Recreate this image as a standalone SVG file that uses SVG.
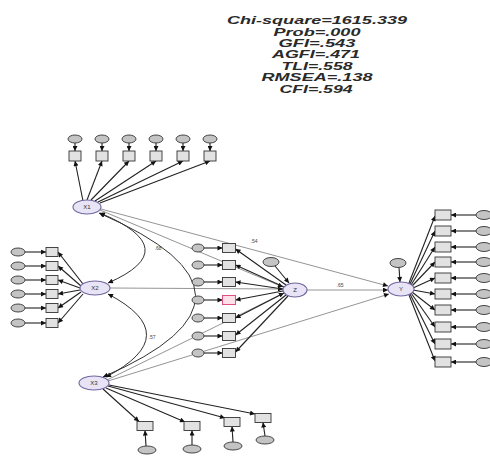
<svg xmlns="http://www.w3.org/2000/svg" width="490" height="456" viewBox="0 0 490 456">
<style>
.st{font-family:"Liberation Sans",Arial,sans-serif;font-size:11px;font-weight:bold;font-style:italic;fill:#2a2a2a;text-anchor:middle}
.lat{fill:#e9e4f5;stroke:#6f66a0;stroke-width:1.1}
.err{fill:#c4c4c4;stroke:#333;stroke-width:0.9}
.box{fill:#e2e2e2;stroke:#333;stroke-width:0.9}
.lt{font-family:"Liberation Sans",Arial,sans-serif;font-size:6px;fill:#333;text-anchor:middle}
.lb{font-family:"Liberation Sans",Arial,sans-serif;font-size:5px;fill:#444;text-anchor:middle}
.ar{stroke:#222;stroke-width:1.1;fill:none;marker-end:url(#ah)}
.sp{stroke:#888;stroke-width:0.9;fill:none;marker-end:url(#ah)}
.cv{stroke:#333;stroke-width:1;fill:none;marker-start:url(#ah2);marker-end:url(#ah)}
</style>
<defs>
<marker id="ah" viewBox="0 0 10 10" refX="10" refY="5" markerWidth="7" markerHeight="5" orient="auto" markerUnits="userSpaceOnUse"><path d="M0,0 L10,5 L0,10 z" fill="#111"/></marker>
<marker id="ah2" viewBox="0 0 10 10" refX="10" refY="5" markerWidth="7" markerHeight="5" orient="auto-start-reverse" markerUnits="userSpaceOnUse"><path d="M0,0 L10,5 L0,10 z" fill="#111"/></marker>
</defs>

<g id="fit">
<text class="st" x="317" y="24" textLength="180" lengthAdjust="spacingAndGlyphs">Chi-square=1615.339</text>
<text class="st" x="317" y="36" textLength="87" lengthAdjust="spacingAndGlyphs">Prob=.000</text>
<text class="st" x="317" y="47" textLength="77" lengthAdjust="spacingAndGlyphs">GFI=.543</text>
<text class="st" x="316" y="58" textLength="88" lengthAdjust="spacingAndGlyphs">AGFI=.471</text>
<text class="st" x="317" y="70" textLength="71" lengthAdjust="spacingAndGlyphs">TLI=.558</text>
<text class="st" x="317" y="81" textLength="111" lengthAdjust="spacingAndGlyphs">RMSEA=.138</text>
<text class="st" x="316" y="93" textLength="73" lengthAdjust="spacingAndGlyphs">CFI=.594</text>
</g>

<g id="connectors">
<line class="sp" x1="100" y1="210" x2="283" y2="287"/>
<line class="sp" x1="101" y1="209" x2="388" y2="286"/>
<line class="sp" x1="110" y1="288" x2="283" y2="289"/>
<line class="sp" x1="307" y1="290" x2="388" y2="290"/>
<line class="sp" x1="107" y1="380" x2="284" y2="293"/>
<line class="sp" x1="108" y1="381" x2="389" y2="294"/>
<path class="cv" d="M100 213 Q186 249 108 283"/>
<path class="cv" d="M108 294 Q186 335 106 377"/>
<path class="cv" d="M99 213 Q290 296 103 377"/>
<line class="ar" x1="75" y1="143" x2="75" y2="151"/>
<line class="ar" x1="102" y1="143" x2="102" y2="151"/>
<line class="ar" x1="129" y1="143" x2="129" y2="151"/>
<line class="ar" x1="156" y1="143" x2="156" y2="151"/>
<line class="ar" x1="183" y1="143" x2="183" y2="151"/>
<line class="ar" x1="210" y1="143" x2="210" y2="151"/>
<line class="ar" x1="83" y1="201" x2="75" y2="161"/>
<line class="ar" x1="87" y1="200" x2="102" y2="161"/>
<line class="ar" x1="91" y1="200" x2="129" y2="161"/>
<line class="ar" x1="95" y1="201" x2="156" y2="161"/>
<line class="ar" x1="98" y1="202" x2="183" y2="161"/>
<line class="ar" x1="100" y1="203" x2="210" y2="161"/>
<line class="ar" x1="25" y1="252" x2="46" y2="252"/>
<line class="ar" x1="25" y1="266" x2="46" y2="266"/>
<line class="ar" x1="25" y1="280" x2="46" y2="280"/>
<line class="ar" x1="25" y1="294" x2="46" y2="294"/>
<line class="ar" x1="25" y1="308" x2="46" y2="308"/>
<line class="ar" x1="25" y1="323" x2="46" y2="323"/>
<line class="ar" x1="83" y1="284" x2="58" y2="252"/>
<line class="ar" x1="81" y1="286" x2="58" y2="266"/>
<line class="ar" x1="80" y1="288" x2="58" y2="280"/>
<line class="ar" x1="80" y1="290" x2="58" y2="294"/>
<line class="ar" x1="81" y1="292" x2="58" y2="308"/>
<line class="ar" x1="83" y1="294" x2="58" y2="323"/>
<line class="ar" x1="146" y1="446" x2="145" y2="430.5"/>
<line class="ar" x1="192" y1="445" x2="192" y2="430.5"/>
<line class="ar" x1="233" y1="442" x2="232" y2="426.5"/>
<line class="ar" x1="265" y1="436" x2="263" y2="422.5"/>
<line class="ar" x1="103" y1="389" x2="139" y2="421.5"/>
<line class="ar" x1="106" y1="388" x2="185" y2="422"/>
<line class="ar" x1="108" y1="386" x2="225" y2="418"/>
<line class="ar" x1="109" y1="385" x2="255" y2="414"/>
<line class="ar" x1="204" y1="248" x2="222.5" y2="248"/>
<line class="ar" x1="204" y1="265" x2="222.5" y2="265"/>
<line class="ar" x1="204" y1="282" x2="222.5" y2="282"/>
<line class="ar" x1="204" y1="300" x2="222.5" y2="300"/>
<line class="ar" x1="204" y1="318" x2="222.5" y2="318"/>
<line class="ar" x1="204" y1="336" x2="222.5" y2="336"/>
<line class="ar" x1="204" y1="353" x2="222.5" y2="353"/>
<line class="ar" x1="286" y1="285" x2="235.5" y2="249"/>
<line class="ar" x1="284" y1="287" x2="235.5" y2="265"/>
<line class="ar" x1="283" y1="289" x2="235.5" y2="282"/>
<line class="ar" x1="283" y1="291" x2="235.5" y2="300"/>
<line class="ar" x1="284" y1="293" x2="235.5" y2="318"/>
<line class="ar" x1="286" y1="295" x2="235.5" y2="335"/>
<line class="ar" x1="288" y1="296" x2="235.5" y2="352"/>
<line class="ar" x1="275" y1="266" x2="289" y2="283"/>
<line class="ar" x1="399" y1="267.5" x2="400" y2="282"/>
<line class="ar" x1="476" y1="215" x2="451" y2="215"/>
<line class="ar" x1="476" y1="231" x2="451" y2="231"/>
<line class="ar" x1="476" y1="247" x2="451" y2="247"/>
<line class="ar" x1="476" y1="262" x2="451" y2="262"/>
<line class="ar" x1="476" y1="278" x2="451" y2="278"/>
<line class="ar" x1="476" y1="294" x2="451" y2="294"/>
<line class="ar" x1="476" y1="310" x2="451" y2="310"/>
<line class="ar" x1="476" y1="327" x2="451" y2="327"/>
<line class="ar" x1="476" y1="344" x2="451" y2="344"/>
<line class="ar" x1="476" y1="362" x2="451" y2="362"/>
<line class="ar" x1="409" y1="283" x2="435" y2="216"/>
<line class="ar" x1="410" y1="284" x2="435" y2="231"/>
<line class="ar" x1="411" y1="285" x2="435" y2="247"/>
<line class="ar" x1="412" y1="286" x2="435" y2="262"/>
<line class="ar" x1="413" y1="288" x2="435" y2="278"/>
<line class="ar" x1="413" y1="290" x2="435" y2="294"/>
<line class="ar" x1="412" y1="292" x2="435" y2="310"/>
<line class="ar" x1="411" y1="293" x2="435" y2="327"/>
<line class="ar" x1="410" y1="294" x2="435" y2="344"/>
<line class="ar" x1="409" y1="295" x2="435" y2="361"/>
<text class="lb" x="158" y="250">.68</text>
<text class="lb" x="152" y="339">.57</text>
<text class="lb" x="254" y="243">.54</text>
<text class="lb" x="340" y="287">.65</text>
</g>

<g id="X1"><ellipse class="lat" cx="87" cy="207" rx="14" ry="7"/><text class="lt" x="87" y="209">X1</text></g>
<g id="X2"><ellipse class="lat" cx="95" cy="288" rx="15" ry="7"/><text class="lt" x="95" y="290">X2</text></g>
<g id="X3"><ellipse class="lat" cx="94" cy="383" rx="15" ry="7"/><text class="lt" x="94" y="385">X3</text></g>
<g id="Z"><ellipse class="lat" cx="295" cy="290" rx="12" ry="7"/><text class="lt" x="295" y="292">Z</text></g>
<g id="Y"><ellipse class="lat" cx="401" cy="289" rx="13" ry="7"/><text class="lt" x="401" y="291">Y</text></g>

<g id="X1-ind">
<ellipse class="err" cx="75" cy="139" rx="7" ry="4"/><rect class="box" x="69" y="151" width="12" height="10"/>
<ellipse class="err" cx="102" cy="139" rx="7" ry="4"/><rect class="box" x="96" y="151" width="12" height="10"/>
<ellipse class="err" cx="129" cy="139" rx="7" ry="4"/><rect class="box" x="123" y="151" width="12" height="10"/>
<ellipse class="err" cx="156" cy="139" rx="7" ry="4"/><rect class="box" x="150" y="151" width="12" height="10"/>
<ellipse class="err" cx="183" cy="139" rx="7" ry="4"/><rect class="box" x="177" y="151" width="12" height="10"/>
<ellipse class="err" cx="210" cy="139" rx="7" ry="4"/><rect class="box" x="204" y="151" width="12" height="10"/>
</g>

<g id="X2-ind">
<ellipse class="err" cx="18" cy="252" rx="7" ry="4"/><rect class="box" x="46" y="247.5" width="12" height="9"/>
<ellipse class="err" cx="18" cy="266" rx="7" ry="4"/><rect class="box" x="46" y="261.5" width="12" height="9"/>
<ellipse class="err" cx="18" cy="280" rx="7" ry="4"/><rect class="box" x="46" y="275.5" width="12" height="9"/>
<ellipse class="err" cx="18" cy="294" rx="7" ry="4"/><rect class="box" x="46" y="289.5" width="12" height="9"/>
<ellipse class="err" cx="18" cy="308" rx="7" ry="4"/><rect class="box" x="46" y="303.5" width="12" height="9"/>
<ellipse class="err" cx="18" cy="323" rx="7" ry="4"/><rect class="box" x="46" y="318.5" width="12" height="9"/>
</g>

<g id="X3-ind">
<rect class="box" x="137" y="421.5" width="16" height="9"/><ellipse class="err" cx="147" cy="450" rx="9" ry="4"/>
<rect class="box" x="184" y="421.5" width="16" height="9"/><ellipse class="err" cx="192" cy="449" rx="9" ry="4"/>
<rect class="box" x="224" y="417.5" width="16" height="9"/><ellipse class="err" cx="233" cy="446" rx="9" ry="4"/>
<rect class="box" x="255" y="413.5" width="16" height="9"/><ellipse class="err" cx="265" cy="440" rx="9" ry="4"/>
</g>

<g id="Z-ind">
<ellipse class="err" cx="271" cy="262" rx="8" ry="4.5"/>
<ellipse class="err" cx="198" cy="248" rx="6" ry="4"/><rect class="box" x="222.5" y="243.5" width="13" height="9"/>
<ellipse class="err" cx="198" cy="265" rx="6" ry="4"/><rect class="box" x="222.5" y="260.5" width="13" height="9"/>
<ellipse class="err" cx="198" cy="282" rx="6" ry="4"/><rect class="box" x="222.5" y="277.5" width="13" height="9"/>
<ellipse class="err" cx="198" cy="300" rx="6" ry="4"/><rect x="222.5" y="295.5" width="13" height="9" fill="#fbe0ea" stroke="#e0507e" stroke-width="1"/>
<ellipse class="err" cx="198" cy="318" rx="6" ry="4"/><rect class="box" x="222.5" y="313.5" width="13" height="9"/>
<ellipse class="err" cx="198" cy="336" rx="6" ry="4"/><rect class="box" x="222.5" y="331.5" width="13" height="9"/>
<ellipse class="err" cx="198" cy="353" rx="6" ry="4"/><rect class="box" x="222.5" y="348.5" width="13" height="9"/>
</g>

<g id="Y-ind">
<ellipse class="err" cx="398" cy="263" rx="8" ry="4.5"/>
<rect class="box" x="435" y="210" width="16" height="10"/><ellipse class="err" cx="484" cy="215" rx="8" ry="4.5"/>
<rect class="box" x="435" y="226" width="16" height="10"/><ellipse class="err" cx="484" cy="231" rx="8" ry="4.5"/>
<rect class="box" x="435" y="242" width="16" height="10"/><ellipse class="err" cx="484" cy="247" rx="8" ry="4.5"/>
<rect class="box" x="435" y="257" width="16" height="10"/><ellipse class="err" cx="484" cy="262" rx="8" ry="4.5"/>
<rect class="box" x="435" y="273" width="16" height="10"/><ellipse class="err" cx="484" cy="278" rx="8" ry="4.5"/>
<rect class="box" x="435" y="289" width="16" height="10"/><ellipse class="err" cx="484" cy="294" rx="8" ry="4.5"/>
<rect class="box" x="435" y="305" width="16" height="10"/><ellipse class="err" cx="484" cy="310" rx="8" ry="4.5"/>
<rect class="box" x="435" y="322" width="16" height="10"/><ellipse class="err" cx="484" cy="327" rx="8" ry="4.5"/>
<rect class="box" x="435" y="339" width="16" height="10"/><ellipse class="err" cx="484" cy="344" rx="8" ry="4.5"/>
<rect class="box" x="435" y="357" width="16" height="10"/><ellipse class="err" cx="484" cy="362" rx="8" ry="4.5"/>
</g>
</svg>
